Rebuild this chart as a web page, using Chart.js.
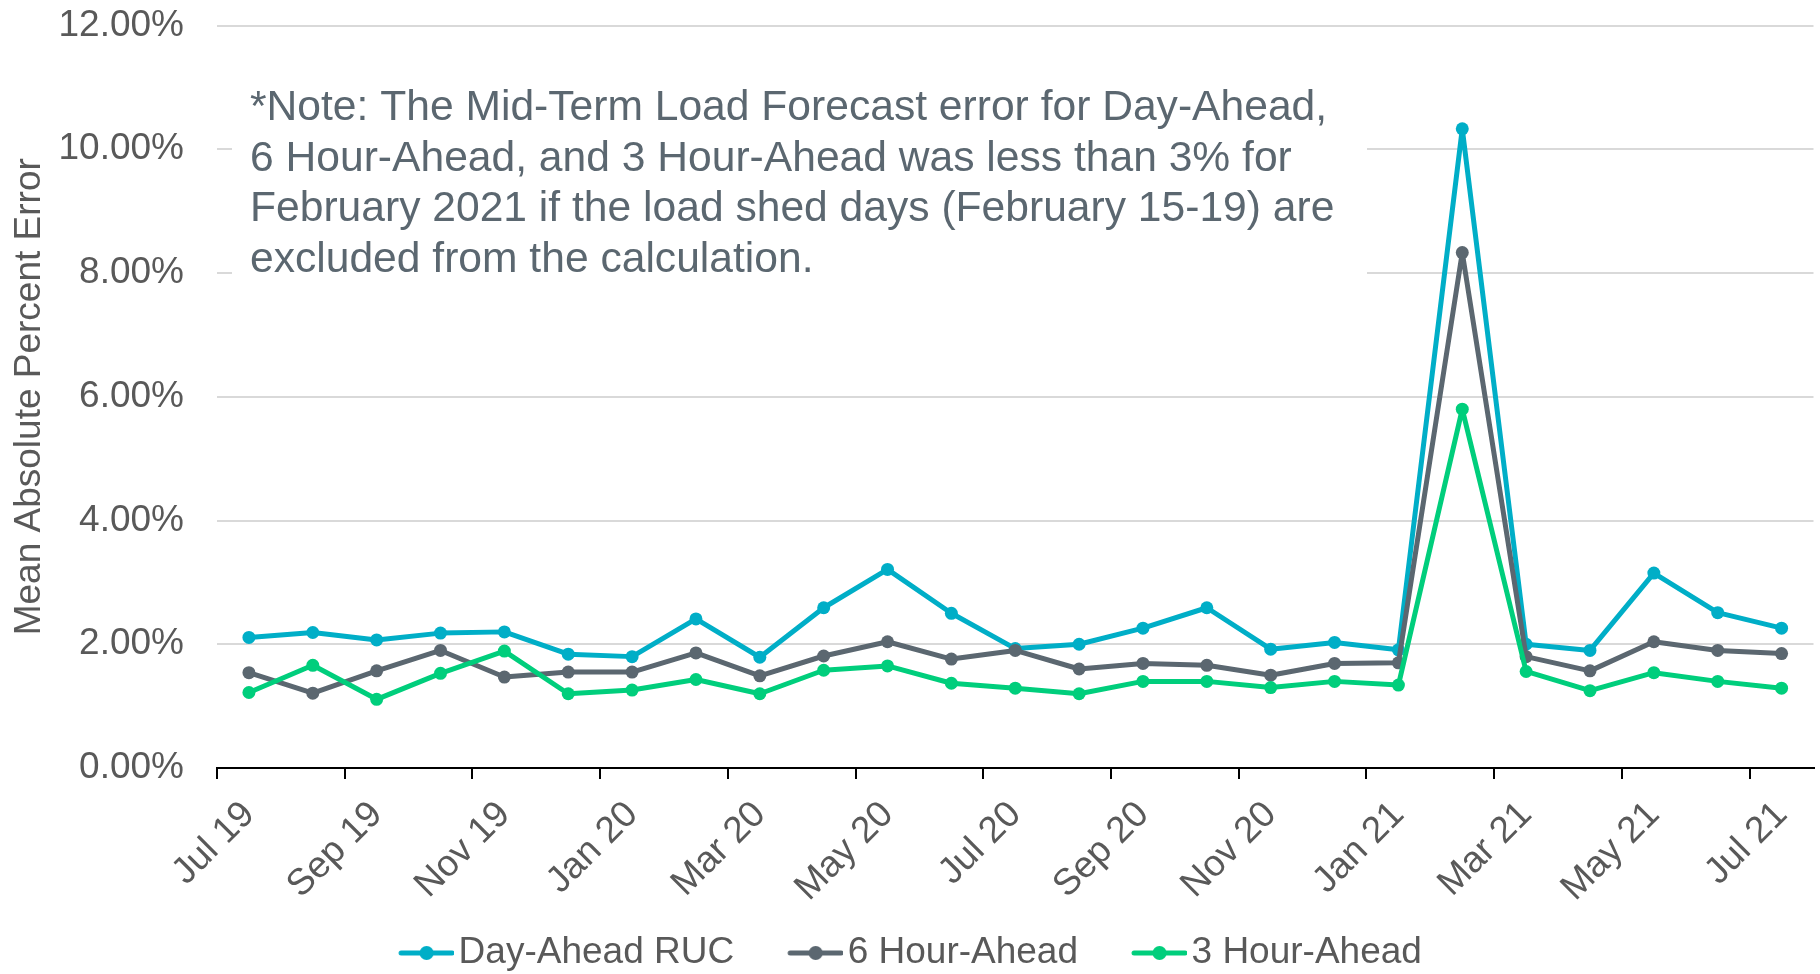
<!DOCTYPE html>
<html>
<head>
<meta charset="utf-8">
<script src="https://cdn.jsdelivr.net/npm/chart.js@4/dist/chart.umd.min.js"></script>
<style>
html,body{margin:0;padding:0;background:#ffffff;}
#wrap{width:1820px;height:974px;position:relative;}
</style>
</head>
<body>
<div id="wrap"><canvas id="c" width="1820" height="974"></canvas></div>
<script>
// ---- data ----
const months = ['Jul 19','Aug 19','Sep 19','Oct 19','Nov 19','Dec 19','Jan 20','Feb 20','Mar 20','Apr 20','May 20','Jun 20',
  'Jul 20','Aug 20','Sep 20','Oct 20','Nov 20','Dec 20','Jan 21','Feb 21','Mar 21','Apr 21','May 21','Jun 21','Jul 21'];
const dayAheadRUC = [2.11, 2.19, 2.07, 2.18, 2.20, 1.84, 1.80, 2.41, 1.79, 2.59, 3.21, 2.50,
  1.93, 2.00, 2.26, 2.59, 1.92, 2.03, 1.91, 10.33, 2.00, 1.90, 3.15, 2.51, 2.26];
const sixHourAhead = [1.54, 1.21, 1.57, 1.90, 1.47, 1.55, 1.55, 1.86, 1.49, 1.81, 2.04, 1.76,
  1.90, 1.60, 1.69, 1.66, 1.50, 1.69, 1.70, 8.33, 1.80, 1.57, 2.04, 1.90, 1.85];
const threeHourAhead = [1.22, 1.66, 1.11, 1.53, 1.89, 1.20, 1.26, 1.43, 1.20, 1.58, 1.65, 1.37,
  1.29, 1.20, 1.40, 1.40, 1.30, 1.40, 1.34, 5.80, 1.56, 1.25, 1.54, 1.40, 1.29];
const seriesNames = ['Day-Ahead RUC', '6 Hour-Ahead', '3 Hour-Ahead'];
const yTickValues = [0, 2, 4, 6, 8, 10, 12];
const yAxisTitle = 'Mean Absolute Percent Error';
const noteLines = [
  '*Note: The Mid-Term Load Forecast error for Day-Ahead,',
  '6 Hour-Ahead, and 3 Hour-Ahead was less than 3% for',
  'February 2021 if the load shed days (February 15-19) are',
  'excluded from the calculation.'
];

// ---- styles ----
const COLORS = ['#00AEC7', '#5B6770', '#00CE7C'];
const TEXT = '#595959';
const NOTE = '#5B6770';
const FONT = '"Liberation Sans", Arial, Helvetica, sans-serif';
Chart.defaults.font.family = FONT;
Chart.defaults.color = TEXT;

const LEG_BOX = 46;            // legend box width
const LEG_W = LEG_BOX + 28;    // marker canvas width
function legendMarker(color) {
  const cv = document.createElement('canvas');
  cv.width = LEG_W; cv.height = 20;
  const g = cv.getContext('2d');
  const x0 = LEG_BOX - 27;
  g.strokeStyle = color; g.lineWidth = 5; g.lineCap = 'round';
  g.beginPath(); g.moveTo(x0 + 2, 10); g.lineTo(x0 + 53, 10); g.stroke();
  g.fillStyle = color;
  g.beginPath(); g.arc(x0 + 27.5, 10, 7, 0, Math.PI * 2); g.fill();
  return cv;
}

const notePlugin = {
  id: 'noteBox',
  beforeDatasetsDraw(chart) {
    const ctx = chart.ctx;
    const a = chart.chartArea;
    ctx.save();
    ctx.fillStyle = '#ffffff';
    ctx.fillRect(a.left + 15, 68, 1135, 222);
    ctx.fillStyle = NOTE;
    ctx.font = '42.6px ' + FONT;
    ctx.textAlign = 'left';
    ctx.textBaseline = 'alphabetic';
    noteLines.forEach((t, i) => ctx.fillText(t, a.left + 33, 120 + i * 50.7));
    ctx.restore();
  }
};

const data = {
  labels: months,
  datasets: [dayAheadRUC, sixHourAhead, threeHourAhead].map((vals, i) => ({
    label: seriesNames[i],
    data: vals,
    borderColor: COLORS[i],
    backgroundColor: COLORS[i],
    pointBackgroundColor: COLORS[i],
    pointBorderWidth: 0,
    pointRadius: 6.5,
    borderWidth: 5,
    borderJoinStyle: 'round',
    borderCapStyle: 'round',
    tension: 0,
    order: 3 - i
  }))
};

new Chart(document.getElementById('c'), {
  type: 'line',
  data,
  plugins: [notePlugin],
  options: {
    responsive: false,
    animation: false,
    devicePixelRatio: 1,
    layout: { padding: { top: 25.5, right: 4, left: 0, bottom: -7.5 } },
    plugins: {
      tooltip: { enabled: false },
      legend: {
        position: 'bottom',
        labels: {
          usePointStyle: true,
          pointStyleWidth: LEG_BOX,
          padding: 95 - LEG_BOX,
          color: TEXT,
          font: { size: 37 },
          generateLabels(chart) {
            return chart.data.datasets.map((ds, i) => ({
              text: ds.label,
              fillStyle: ds.borderColor,
              strokeStyle: ds.borderColor,
              lineWidth: 0,
              pointStyle: legendMarker(ds.borderColor),
              datasetIndex: i,
              hidden: false,
              fontColor: TEXT
            }));
          }
        }
      }
    },
    scales: {
      x: {
        type: 'category',
        offset: true,
        afterFit(scale) { scale.height = 117.5; scale.paddingLeft = 0; scale.paddingRight = 0; },
        afterUpdate(scale) { scale._computeLabelArea = () => undefined; },
        border: { display: true, color: '#000000', width: 2 },
        grid: {
          offset: true,
          drawOnChartArea: false,
          drawTicks: true,
          tickLength: 11,
          lineWidth: 2,
          color(ctx) {
            if (ctx.type !== 'tick') return 'rgba(0,0,0,0)';
            return ctx.index % 2 === 0 ? '#000000' : 'rgba(0,0,0,0)';
          }
        },
        ticks: {
          autoSkip: false,
          minRotation: 45,
          maxRotation: 45,
          padding: 14,
          color: TEXT,
          font: { size: 37 },
          callback(value, index) { return index % 2 === 0 ? months[index] : ''; }
        }
      },
      y: {
        min: 0,
        max: 12,
        afterFit(scale) { scale.width = 217; scale.paddingTop = 0; scale.paddingBottom = 0; },
        afterBuildTicks(scale) { scale.ticks = yTickValues.map(v => ({ value: v })); },
        border: { display: false },
        grid: { color: '#D9D9D9', lineWidth: 2, drawTicks: false },
        ticks: {
          padding: 33,
          color: TEXT,
          font: { size: 37 },
          callback(v) { return Number(v).toFixed(2) + '%'; }
        },
        title: {
          display: true,
          text: yAxisTitle,
          color: TEXT,
          font: { size: 37 },
          padding: { top: 8, bottom: 0 }
        }
      }
    }
  }
});
</script>
</body>
</html>
